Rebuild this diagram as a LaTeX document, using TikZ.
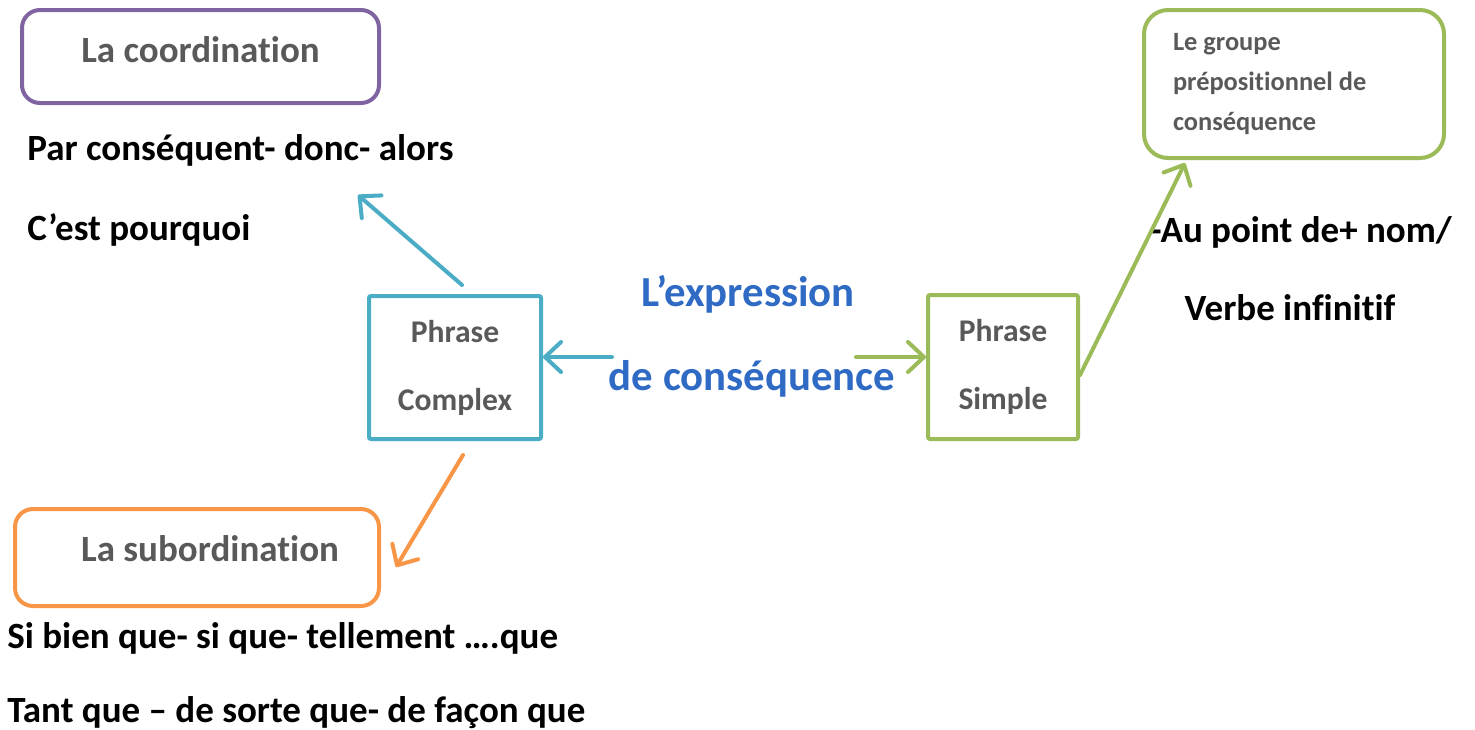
\documentclass[tikz,border=0pt]{standalone}
\usepackage{fontspec}
\setmainfont{Carlito}[Ligatures=NoCommon]
\usetikzlibrary{arrows.meta,positioning,calc}
\definecolor{cpurple}{HTML}{8064A2}
\definecolor{cblue}{HTML}{4BACC6}
\definecolor{cgreen}{HTML}{9BBB59}
\definecolor{corange}{HTML}{F79646}
\definecolor{cgray}{HTML}{595959}
\definecolor{ctitle}{HTML}{2F6BC4}

\begin{document}
\begin{tikzpicture}[x=0.5pt, y=0.5pt,
  box/.style={draw, line width=2pt, inner sep=0pt, align=center,
    text=cgray, font=\fontsize{18.5}{22}\selectfont\bfseries},
  rbox/.style={box, rounded corners=9pt},
  phr/.style={box, rounded corners=1pt,
    font=\fontsize{15.8}{34}\selectfont\bfseries},
  txt/.style={anchor=base west, inner sep=0pt,
    font=\fontsize{18.5}{22}\selectfont\bfseries},
  ttl/.style={anchor=base, inner sep=0pt, text=ctitle,
    font=\fontsize{21.4}{26}\selectfont\bfseries},
  arr/.style={-{Straight Barb[length=8pt,width=15pt,round]},
    line width=2pt, line cap=round}]
\useasboundingbox (0,0) rectangle (1475,-729);
% boxes
\node[rbox, draw=cpurple, minimum width=178.5pt, minimum height=46.5pt,
  text depth=6.5pt] (coord) at (200.5,-56.5) {La coordination};
\node[rbox, draw=corange, minimum width=182pt, minimum height=48.5pt,
  text depth=9pt] (subord) at (197,-557.5) {\hspace*{13pt}La subordination};
\node[phr, draw=cblue, minimum width=86pt, minimum height=71.5pt]
  (cplx) at (455,-367.5) {Phrase\\Complex};
\node[phr, draw=cgreen, minimum width=75pt, minimum height=72pt]
  (simp) at (1003,-367) {Phrase\\Simple};
\node[box, draw=cgreen, rounded corners=12pt, minimum width=150pt,
  minimum height=74pt, text width=121pt, inner xsep=14.5pt,
  align=flush left, font=\fontsize{13.2}{20}\selectfont\bfseries]
  (grp) at (1294,-84) {Le groupe\\prépositionnel de\\conséquence};
% title
\node[ttl] (titlea) at (748,-306) {L’expression};
\node[ttl] (titleb) at (752,-390) {de conséquence};
% texts
\node[txt] (coordl1) at (27,-160) {Par conséquent- donc- alors};
\node[txt] (coordl2) at (27,-240) {C’est pourquoi};
\node[txt] (subl1) at (7,-648) {Si bien que- si que- tellement ….que};
\node[txt] (subl2) at (7,-722) {Tant que – de sorte que- de façon que};
\node[txt] (grpl1) at (1150,-242) {-Au point de+ nom/};
\node[txt, anchor=base] (grpl2) at (1290,-320) {Verbe infinitif};
% free ends
\coordinate (coordtip) at (358,-195);
\coordinate (subtip) at (396,-567);
\coordinate (grptip) at (1185,-163);
\coordinate (bstart) at (612,-357);
\coordinate (gstart) at (856,-357);
% arrows
\draw[arr, cblue] ([xshift=3.5pt,yshift=4.5pt]cplx.north) -- (coordtip);
\draw[arr, corange] ([xshift=4pt,yshift=-7pt]cplx.south) -- (subtip);
\draw[arr, cblue] (bstart) -- (bstart -| cplx.east);
\draw[arr, cgreen] (gstart) -- (gstart -| simp.west);
\draw[arr, cgreen] ([yshift=-4pt]simp.east) -- (grptip);
\end{tikzpicture}
\end{document}
